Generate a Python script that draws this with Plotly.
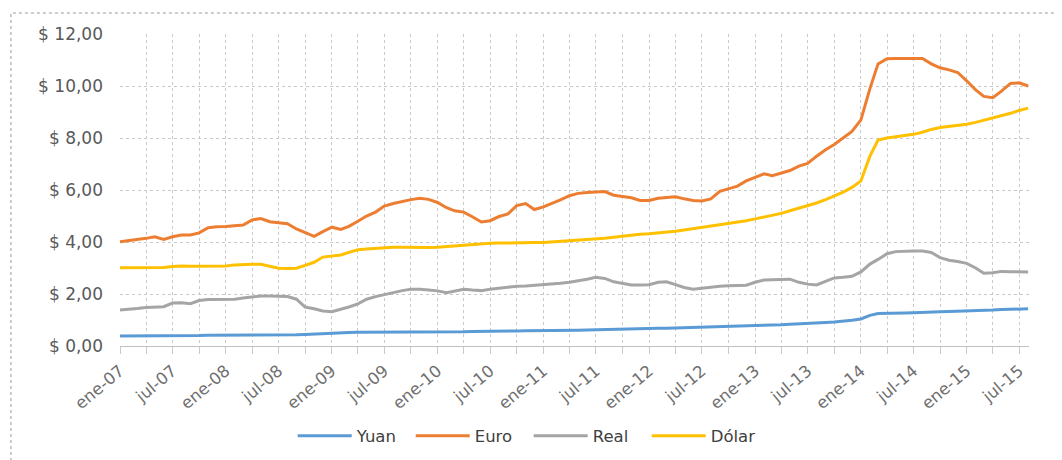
import pandas as pd
import plotly.graph_objects as go

# Monthly dates: ene-07 .. ago-15
dates = pd.date_range("2007-01-01", periods=104, freq="MS")

yuan = [0.38, 0.38, 0.38, 0.38, 0.38, 0.39, 0.39, 0.39, 0.40, 0.40, 0.41, 0.41,
        0.42, 0.42, 0.43, 0.43, 0.43, 0.43, 0.43, 0.43, 0.43, 0.44, 0.46, 0.49,
        0.50, 0.51, 0.52, 0.53, 0.53, 0.54, 0.54, 0.54, 0.54, 0.54, 0.54, 0.54,
        0.54, 0.55, 0.55, 0.55, 0.56, 0.56, 0.57, 0.57, 0.58, 0.58, 0.59, 0.59,
        0.59, 0.60, 0.60, 0.61, 0.61, 0.62, 0.63, 0.64, 0.65, 0.65, 0.66, 0.67,
        0.67, 0.68, 0.68, 0.69, 0.70, 0.71, 0.72, 0.72, 0.73, 0.75, 0.76, 0.78,
        0.79, 0.80, 0.81, 0.82, 0.84, 0.85, 0.87, 0.88, 0.90, 0.92, 0.95, 0.99,
        1.04, 1.18, 1.25, 1.25, 1.26, 1.27, 1.28, 1.30, 1.31, 1.32, 1.33, 1.34,
        1.33, 1.35, 1.37, 1.38, 1.40, 1.41, 1.42, 1.43]

euro = [4.01, 4.05, 4.08, 4.14, 4.20, 4.10, 4.20, 4.27, 4.27, 4.35, 4.55, 4.59,
        4.60, 4.62, 4.65, 4.85, 4.90, 4.78, 4.73, 4.70, 4.50, 4.35, 4.22, 4.40,
        4.57, 4.48, 4.60, 4.80, 5.00, 5.15, 5.38, 5.48, 5.56, 5.63, 5.68, 5.64,
        5.52, 5.32, 5.20, 5.15, 4.97, 4.77, 4.82, 4.98, 5.08, 5.40, 5.48, 5.25,
        5.35, 5.48, 5.62, 5.78, 5.87, 5.90, 5.91, 5.94, 5.80, 5.74, 5.70, 5.60,
        5.60, 5.68, 5.72, 5.74, 5.66, 5.60, 5.58, 5.66, 5.95, 6.05, 6.15, 6.35,
        6.48, 6.62, 6.55, 6.65, 6.75, 6.92, 7.02, 7.30, 7.55, 7.75, 8.00, 8.25,
        8.70, 9.90, 10.85, 11.05, 11.06, 11.06, 11.06, 11.06, 10.85, 10.70, 10.62, 10.52,
        10.20, 9.85, 9.60, 9.55, 9.80, 10.10, 10.12, 10.00]

real = [1.38, 1.40, 1.44, 1.48, 1.50, 1.51, 1.65, 1.66, 1.63, 1.75, 1.79, 1.79,
        1.79, 1.80, 1.85, 1.90, 1.92, 1.92, 1.91, 1.90, 1.80, 1.50, 1.43, 1.35,
        1.32, 1.40, 1.50, 1.62, 1.80, 1.90, 1.98, 2.05, 2.13, 2.18, 2.18, 2.15,
        2.12, 2.05, 2.10, 2.18, 2.15, 2.13, 2.18, 2.23, 2.27, 2.30, 2.31, 2.33,
        2.35, 2.37, 2.41, 2.45, 2.50, 2.57, 2.64, 2.60, 2.47, 2.40, 2.35, 2.35,
        2.36, 2.45, 2.47, 2.36, 2.25, 2.18, 2.22, 2.28, 2.30, 2.32, 2.32, 2.34,
        2.45, 2.54, 2.55, 2.55, 2.57, 2.45, 2.38, 2.35, 2.50, 2.62, 2.64, 2.68,
        2.85, 3.15, 3.33, 3.55, 3.63, 3.65, 3.65, 3.65, 3.60, 3.40, 3.30, 3.25,
        3.18, 3.00, 2.80, 2.82, 2.87, 2.86, 2.85, 2.85]

dolar = [3.01, 3.01, 3.02, 3.03, 3.03, 3.02, 3.06, 3.08, 3.07, 3.07, 3.08, 3.08,
         3.08, 3.12, 3.14, 3.14, 3.14, 3.05, 2.99, 2.98, 2.99, 3.10, 3.22, 3.42,
         3.46, 3.50, 3.60, 3.70, 3.73, 3.76, 3.78, 3.80, 3.80, 3.79, 3.79, 3.79,
         3.80, 3.83, 3.86, 3.88, 3.90, 3.93, 3.95, 3.96, 3.97, 3.97, 3.97, 3.98,
         3.98, 4.00, 4.02, 4.04, 4.06, 4.08, 4.10, 4.14, 4.18, 4.22, 4.27, 4.30,
         4.32, 4.35, 4.37, 4.41, 4.46, 4.51, 4.55, 4.60, 4.65, 4.70, 4.75, 4.82,
         4.89, 4.96, 5.03, 5.10, 5.20, 5.30, 5.38, 5.50, 5.63, 5.76, 5.92, 6.10,
         6.35, 7.30, 7.92, 8.00, 8.04, 8.08, 8.14, 8.22, 8.33, 8.40, 8.44, 8.48,
         8.53, 8.60, 8.68, 8.78, 8.86, 8.95, 9.06, 9.15]

series_names = ["Yuan", "Euro", "Real", "Dólar"]
series_colors = ["#5B9BD5", "#ED7D31", "#A5A5A5", "#FFC000"]

x_tick_dates = pd.date_range("2007-01-01", "2015-07-01", freq="6MS")
x_tick_labels = ["ene-07", "jul-07", "ene-08", "jul-08", "ene-09", "jul-09",
                 "ene-10", "jul-10", "ene-11", "jul-11", "ene-12", "jul-12",
                 "ene-13", "jul-13", "ene-14", "jul-14", "ene-15", "jul-15"]
y_tick_vals = [0, 2, 4, 6, 8, 10, 12]
y_tick_labels = ["$ 0,00", "$ 2,00", "$ 4,00", "$ 6,00", "$ 8,00", "$ 10,00", "$ 12,00"]

fig = go.Figure()
for name, vals, col in zip(series_names, [yuan, euro, real, dolar], series_colors):
    fig.add_trace(go.Scatter(x=dates, y=vals, name=name, mode="lines",
                             line=dict(color=col, width=3)))

grid_col = "#c9c9c9"
fig.update_xaxes(
    range=["2007-01-01", "2015-08-04"],
    tickvals=x_tick_dates, ticktext=x_tick_labels,
    tickangle=-40,
    tickfont=dict(family="DejaVu Sans", size=16.5, color="#6f6f6f"),
    ticklabelshift=0, ticklabelstandoff=1,
    showgrid=True, gridcolor=grid_col, griddash="dot", gridwidth=1,
    minor=dict(dtick="M3", tick0="2007-01-01", showgrid=True, gridcolor=grid_col,
               griddash="dot", gridwidth=1, ticks="outside", ticklen=7, tickcolor=grid_col),
    ticks="outside", ticklen=7, tickcolor=grid_col,
    showline=True, linecolor="#bfbfbf", linewidth=1,
    zeroline=False, automargin=False,
)
fig.update_yaxes(
    range=[0, 12],
    tickvals=y_tick_vals, ticktext=y_tick_labels,
    tickfont=dict(family="DejaVu Sans", size=17, color="#595959"),
    showgrid=True, gridcolor=grid_col, griddash="dot", gridwidth=1,
    ticklabelstandoff=16,
    zeroline=False, showline=False, automargin=False,
)

fig.add_shape(type="rect", xref="paper", yref="paper",
              x0=-0.12, x1=1.05, y0=-0.42, y1=1.067,
              line=dict(color="#bdbdbd", width=1.5, dash="dot"), fillcolor="rgba(0,0,0,0)")

fig.update_layout(
    width=1054, height=452,
    margin=dict(l=112, r=33, t=26, b=114),
    paper_bgcolor="white", plot_bgcolor="white",
    showlegend=True,
    legend=dict(orientation="h", xref="paper", x=0.190, xanchor="left",
                yref="container", y=0.053, yanchor="middle",
                font=dict(family="DejaVu Sans", size=16.5, color="#404040"),
                itemwidth=54, entrywidth=49, entrywidthmode="pixels",
                bgcolor="rgba(0,0,0,0)"),
)

fig.write_html("out.html")
